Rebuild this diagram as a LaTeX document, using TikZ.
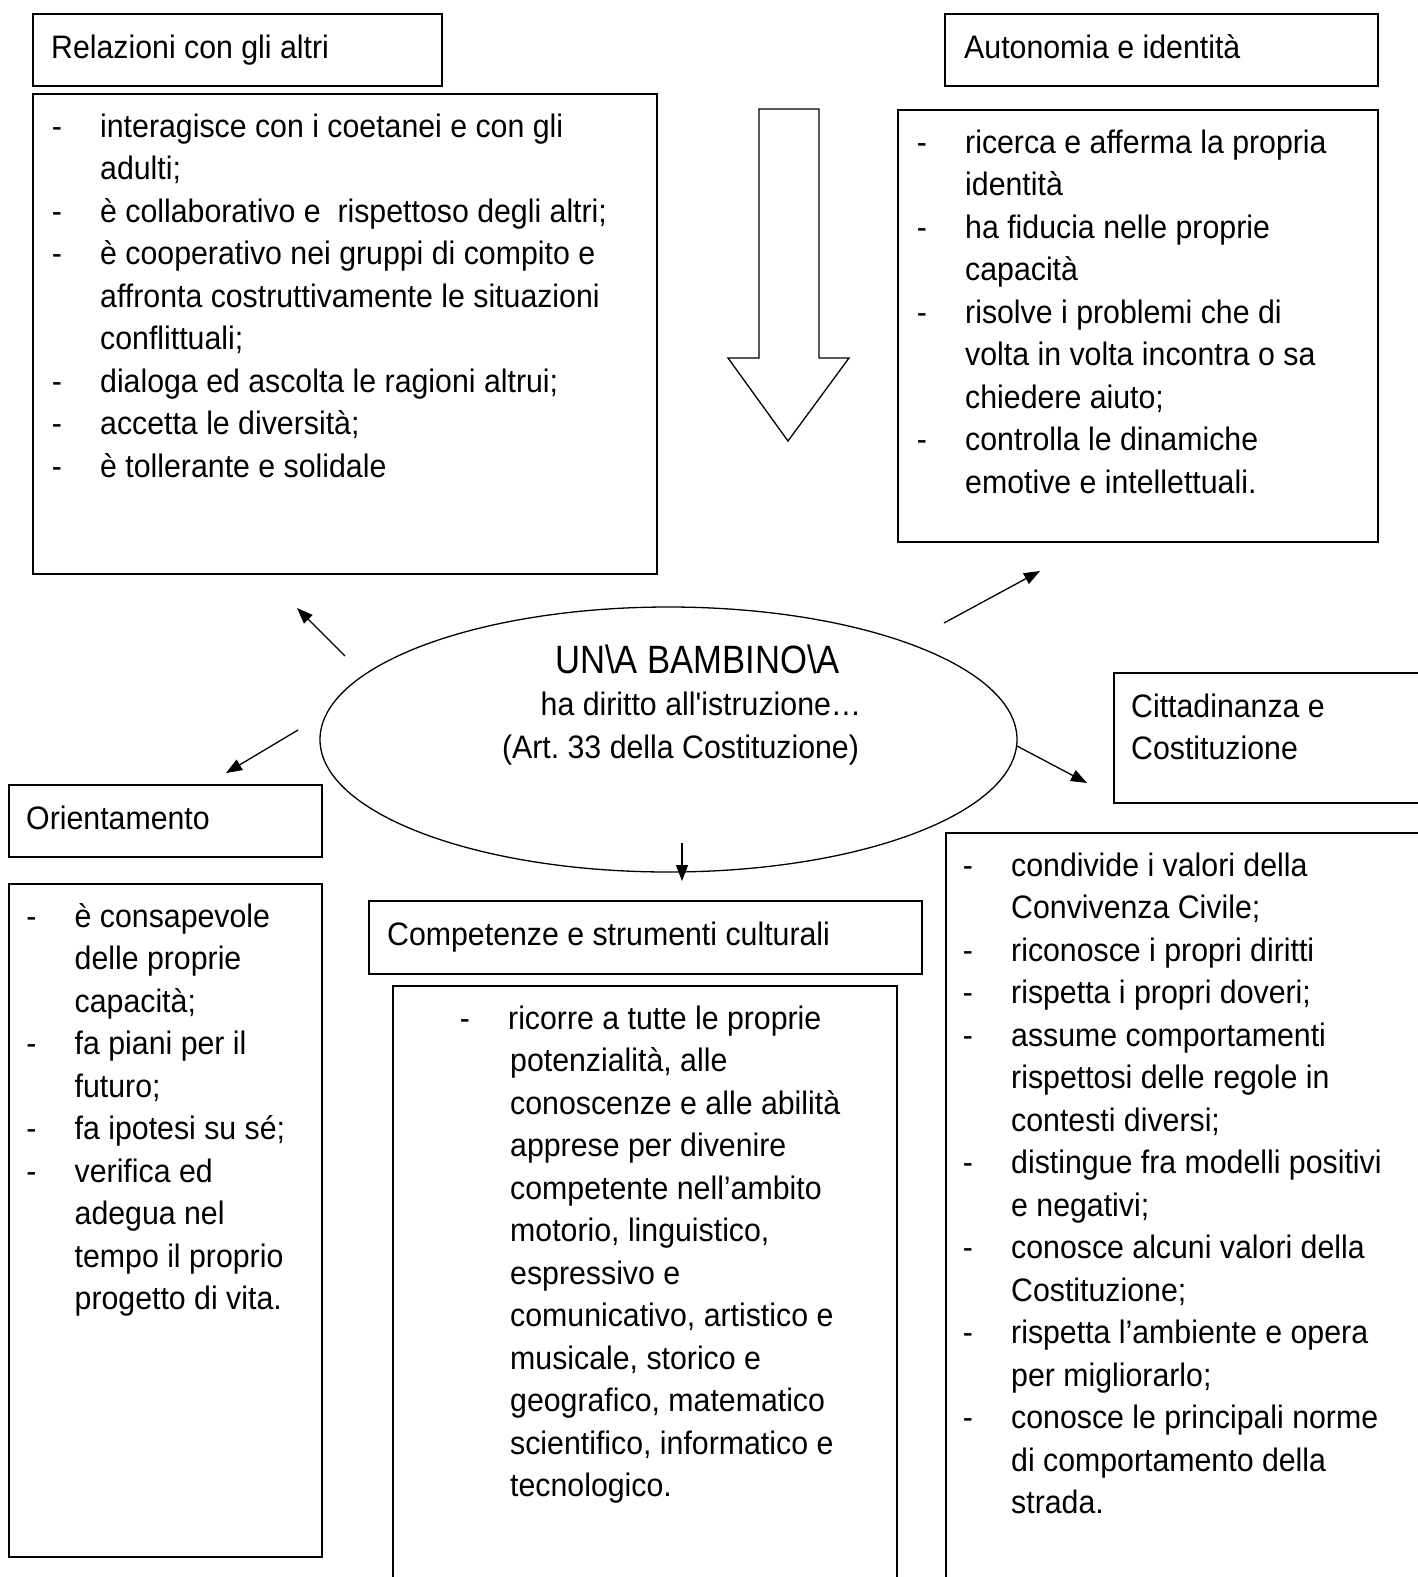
\documentclass[tikz,border=0pt]{standalone}
\usepackage{fontspec}
\newfontfamily\bodyf[FakeStretch=0.932,Ligatures=TeXOff]{Liberation Sans}
\newfontfamily\titlef[FakeStretch=0.877,Ligatures=TeXOff]{Liberation Sans}
\usetikzlibrary{arrows.meta,shapes.geometric}
\frenchspacing
\newcommand{\dsh}{\makebox[48.3pt][l]{-}}
\newcommand{\ind}{\hspace*{48.3pt}}
\newcommand{\indd}{\hspace*{50.3pt}}
\newcommand{\fst}{\rule{0pt}{32pt}}
\tikzset{
  box/.style={draw, line width=1.5pt, inner sep=0pt, anchor=north west},
  bodytext/.style={font=\bodyf\fontsize{32.5}{42.5}\selectfont, align=left, inner sep=0pt, anchor=north west},
  headtext/.style={font=\bodyf\fontsize{32.5}{42.5}\selectfont, inner sep=0pt, anchor=base west},
  midtext/.style={font=\bodyf\fontsize{32.5}{42.5}\selectfont, inner sep=0pt, anchor=base},
  arr/.style={-{Triangle[length=16pt,width=12pt]}, line width=1.3pt},
}
\begin{document}
\begin{tikzpicture}[x=1pt,y=-1pt]
\clip (0,0) rectangle (1418,1577);
\fill[white] (0,0) rectangle (1418,1577);

% ---- Relazioni con gli altri
\node[box, minimum width=409, minimum height=72] (relT) at (32,13) {};
\node[headtext] (relTt) at (51,58) {Relazioni con gli altri};
\node[box, minimum width=624, minimum height=480] (relB) at (32,93) {};
\node[bodytext] (relBt) at (51.7,105) {\fst\dsh interagisce con i coetanei e con gli\\
\ind adulti;\\
\dsh è collaborativo e~ rispettoso degli altri;\\
\dsh è cooperativo nei gruppi di compito e\\
\ind affronta costruttivamente le situazioni\\
\ind conflittuali;\\
\dsh dialoga ed ascolta le ragioni altrui;\\
\dsh accetta le diversità;\\
\dsh è tollerante e solidale};

% ---- Autonomia e identita
\node[box, minimum width=433, minimum height=72] (autT) at (944,13) {};
\node[headtext] (autTt) at (964,58) {Autonomia e identità};
\node[box, minimum width=480, minimum height=432] (autB) at (897,109) {};
\node[bodytext] (autBt) at (916.7,121) {\fst\dsh ricerca e afferma la propria\\
\ind identità\\
\dsh ha fiducia nelle proprie\\
\ind capacità\\
\dsh risolve i problemi che di\\
\ind volta in volta incontra o sa\\
\ind chiedere aiuto;\\
\dsh controlla le dinamiche\\
\ind emotive e intellettuali.};

% ---- big hollow arrow
\draw[line width=1.3pt, line join=miter] (759,109) -- (819,109) -- (819,358) -- (849,358)
  -- (788,441) -- (728,358) -- (759,358) -- cycle;

% ---- central ellipse
\node[draw, ellipse, line width=1.3pt, minimum width=697, minimum height=265, inner sep=0pt] (child) at (668.5,739.5) {};
\node[midtext, font=\titlef\fontsize{39.5}{45}\selectfont] (t1) at (697.5,673) {UN\textbackslash A BAMBINO\textbackslash A};
\node[midtext] (t2) at (701,715) {ha diritto all'istruzione…};
\node[midtext] (t3) at (680.5,758) {(Art. 33 della Costituzione)};

% ---- Orientamento
\node[box, minimum width=313, minimum height=72] (oriT) at (8,784) {};
\node[headtext] (oriTt) at (26,829) {Orientamento};
\node[box, minimum width=313, minimum height=673] (oriB) at (8,883) {};
\node[bodytext] (oriBt) at (26.2,895) {\fst\dsh è consapevole\\
\ind delle proprie\\
\ind capacità;\\
\dsh fa piani per il\\
\ind futuro;\\
\dsh fa ipotesi su sé;\\
\dsh verifica ed\\
\ind adegua nel\\
\ind tempo il proprio\\
\ind progetto di vita.};

% ---- Competenze e strumenti culturali
\node[box, minimum width=553, minimum height=73] (comT) at (368,900) {};
\node[headtext] (comTt) at (387,945) {Competenze e strumenti culturali};
\node[box, minimum width=504, minimum height=650] (comB) at (392,985) {};
\node[bodytext] (comBt) at (459.7,997) {\fst\dsh ricorre a tutte le proprie\\
\indd potenzialità, alle\\
\indd conoscenze e alle abilità\\
\indd apprese per divenire\\
\indd competente nell’ambito\\
\indd motorio, linguistico,\\
\indd espressivo e\\
\indd comunicativo, artistico e\\
\indd musicale, storico e\\
\indd geografico, matematico\\
\indd scientifico, informatico e\\
\indd tecnologico.};

% ---- Cittadinanza e Costituzione
\node[box, minimum width=330, minimum height=130] (citT) at (1113,672) {};
\node[bodytext] (citTt) at (1131,685) {\fst Cittadinanza e\\Costituzione};
\node[box, minimum width=500, minimum height=800] (citB) at (945,832) {};
\node[bodytext] (citBt) at (962.7,844) {\fst\dsh condivide i valori della\\
\ind Convivenza Civile;\\
\dsh riconosce i propri diritti\\
\dsh rispetta i propri doveri;\\
\dsh assume comportamenti\\
\ind rispettosi delle regole in\\
\ind contesti diversi;\\
\dsh distingue fra modelli positivi\\
\ind e negativi;\\
\dsh conosce alcuni valori della\\
\ind Costituzione;\\
\dsh rispetta l’ambiente e opera\\
\ind per migliorarlo;\\
\dsh conosce le principali norme\\
\ind di comportamento della\\
\ind strada.};

% ---- connectors
\coordinate (nwA) at (345,656);  \coordinate (nwB) at (297,608);
\coordinate (neA) at (944,623);  \coordinate (neB) at (1040,571);
\coordinate (swA) at (298,730);  \coordinate (swB) at (226,773);
\coordinate (seA) at (1017,746); \coordinate (seB) at (1087,783);
\coordinate (sA) at (682,843);   \coordinate (sB) at (682,881);
\draw[arr] (nwA) -- (nwB);
\draw[arr] (neA) -- (neB);
\draw[arr] (swA) -- (swB);
\draw[arr] (seA) -- (seB);
\draw[arr] (sA) -- (sB);
\end{tikzpicture}
\end{document}
